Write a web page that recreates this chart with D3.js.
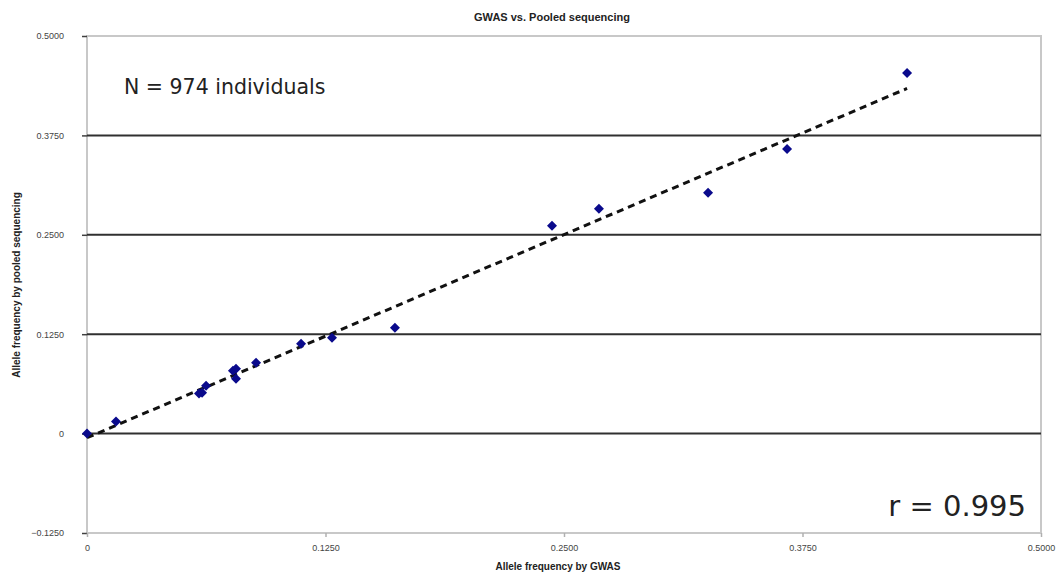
<!DOCTYPE html>
<html><head><meta charset="utf-8">
<script src="https://cdn.jsdelivr.net/npm/d3@7"></script>
<style>body{margin:0;background:#fff;}svg{display:block;font-family:"Liberation Sans",Arial,sans-serif;}</style>
</head><body><svg id="c" width="1057" height="573"></svg>
<script>
const gwas   = [0, 0.0152, 0.0587, 0.0603, 0.0624, 0.0765, 0.0781, 0.0781, 0.0886, 0.1122, 0.1284, 0.1614, 0.2437, 0.2683, 0.3255, 0.3669, 0.4298];
const pooled = [0, 0.0151, 0.0503, 0.0515, 0.0603, 0.0791, 0.0817, 0.0691, 0.0892, 0.1131, 0.1206, 0.1332, 0.2613, 0.2827, 0.3028, 0.3580, 0.4535];
const xTicks = [0, 0.125, 0.25, 0.375, 0.5];
const yTicks = [-0.125, 0, 0.125, 0.25, 0.375, 0.5];
const titleText = "GWAS vs. Pooled sequencing";
const xTitle = "Allele frequency by GWAS";
const yTitle = "Allele frequency by pooled sequencing";
const noteN = "N = 974 individuals";
const noteR = "r = 0.995";

const svg = d3.select("#c");
const L = 87, R = 1041, T = 36, B = 533;
const x = d3.scaleLinear().domain([0, 0.5]).range([L, R]);
const y = d3.scaleLinear().domain([-0.125, 0.5]).range([B, T]);
const fmt = v => v === 0 ? "0" : d3.format(".4f")(v);

// plot border
svg.append("rect").attr("x", L).attr("y", T).attr("width", R - L).attr("height", B - T)
  .attr("fill", "none").attr("stroke", "#c8c8c8").attr("stroke-width", 2);

// gridlines
svg.append("g").selectAll("line").data(yTicks.filter(v => v > -0.125 && v < 0.5)).join("line")
  .attr("x1", L).attr("x2", R).attr("y1", d => y(d)).attr("y2", d => y(d))
  .attr("stroke", "#303030").attr("stroke-width", 2);

// y axis
const ya = svg.append("g").attr("transform", `translate(${L},0)`)
  .call(d3.axisLeft(y).tickValues(yTicks).tickFormat(fmt).tickSize(5).tickPadding(18));
ya.select(".domain").remove();
ya.selectAll("line").attr("stroke", "#404040").attr("stroke-width", 1.5);
ya.selectAll("text").attr("font-size", 9).attr("fill", "#444");

// x axis
const xa = svg.append("g").attr("transform", `translate(0,${B})`)
  .call(d3.axisBottom(x).tickValues(xTicks).tickFormat(fmt).tickSize(4).tickPadding(8));
xa.select(".domain").remove();
xa.selectAll("line").attr("stroke", "#b0b0b0").attr("stroke-width", 1.5);
xa.selectAll("text").attr("font-size", 9).attr("fill", "#444");

// trendline (least squares)
const n = gwas.length;
const mx = d3.mean(gwas), my = d3.mean(pooled);
let sxy = 0, sxx = 0;
for (let i = 0; i < n; i++) { sxy += (gwas[i]-mx)*(pooled[i]-my); sxx += (gwas[i]-mx)**2; }
const slope = sxy / sxx, icpt = my - slope * mx;
const x0 = d3.min(gwas), x1 = d3.max(gwas);
svg.append("line").attr("x1", x(x0)).attr("y1", y(icpt + slope*x0))
  .attr("x2", x(x1)).attr("y2", y(icpt + slope*x1))
  .attr("stroke", "#111").attr("stroke-width", 3).attr("stroke-dasharray", "7,5");

// points
svg.append("g").selectAll("path").data(gwas.map((g, i) => [g, pooled[i]])).join("path")
  .attr("d", d3.symbol().type(d3.symbolSquare).size(50))
  .attr("transform", d => `translate(${x(d[0])},${y(d[1])}) rotate(45)`)
  .attr("fill", "#0a0a8c");

// titles
svg.append("text").attr("x", 552).attr("y", 21).attr("text-anchor", "middle")
  .attr("font-size", 11).attr("font-weight", "bold").attr("fill", "#222").text(titleText);
svg.append("text").attr("x", 558).attr("y", 570).attr("text-anchor", "middle")
  .attr("font-size", 10).attr("font-weight", "bold").attr("fill", "#222").text(xTitle);
svg.append("text").attr("transform", "translate(20,285) rotate(-90)").attr("text-anchor", "middle")
  .attr("font-size", 10).attr("font-weight", "bold").attr("fill", "#222").text(yTitle);

// notes
svg.append("text").attr("x", 124).attr("y", 94).attr("font-family", "'DejaVu Sans',sans-serif")
  .attr("font-size", 20.5).attr("fill", "#222").text(noteN);
svg.append("text").attr("x", 1026).attr("y", 516).attr("text-anchor", "end")
  .attr("font-family", "'DejaVu Sans',sans-serif")
  .attr("font-size", 29).attr("fill", "#222").text(noteR);
</script></body></html>
